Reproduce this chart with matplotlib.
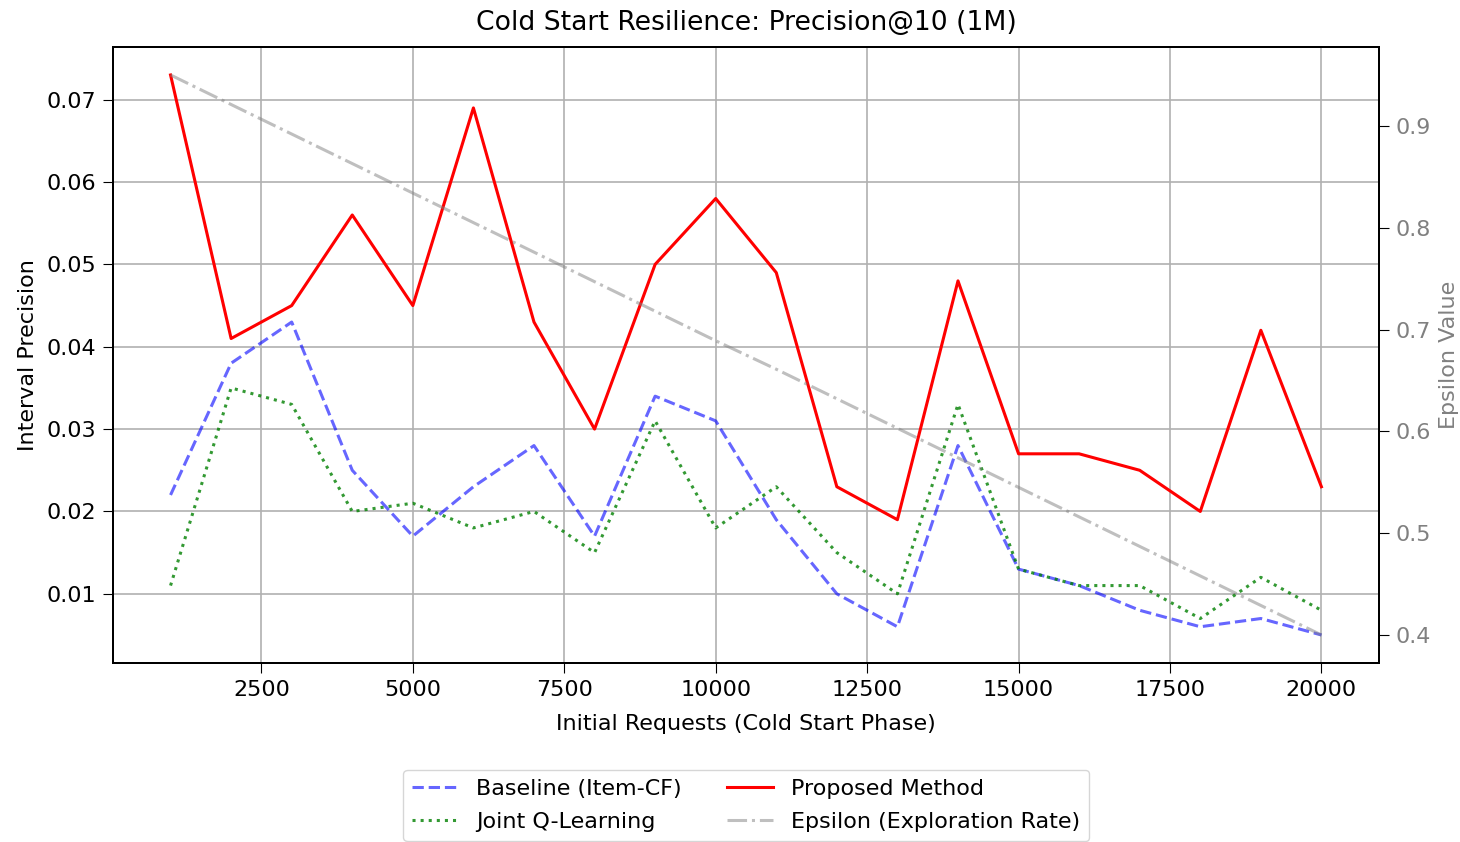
import matplotlib
matplotlib.use("Agg")
import matplotlib.pyplot as plt

requests = [1000, 2000, 3000, 4000, 5000, 6000, 7000, 8000, 9000, 10000,
            11000, 12000, 13000, 14000, 15000, 16000, 17000, 18000, 19000, 20000]
baseline = [0.022, 0.038, 0.043, 0.025, 0.017, 0.023, 0.028, 0.017, 0.034, 0.031,
            0.019, 0.010, 0.006, 0.028, 0.013, 0.011, 0.008, 0.006, 0.007, 0.005]
joint_q = [0.011, 0.035, 0.033, 0.020, 0.021, 0.018, 0.020, 0.015, 0.031, 0.018,
           0.023, 0.015, 0.010, 0.033, 0.013, 0.011, 0.011, 0.007, 0.012, 0.008]
proposed = [0.073, 0.041, 0.045, 0.056, 0.045, 0.069, 0.043, 0.030, 0.050, 0.058,
            0.049, 0.023, 0.019, 0.048, 0.027, 0.027, 0.025, 0.020, 0.042, 0.023]
epsilon = [0.950, 0.921, 0.892, 0.863, 0.834, 0.805, 0.776, 0.747, 0.718, 0.689,
           0.661, 0.632, 0.603, 0.574, 0.545, 0.516, 0.487, 0.458, 0.429, 0.400]

fs = 16
fig = plt.figure(figsize=(14.6, 8.42), dpi=100)
ax1 = fig.add_axes([0.0774, 0.2126, 0.8671, 0.7316])

l1, = ax1.plot(requests, baseline, color="blue", linestyle="--", alpha=0.6, lw=2.2, label="Baseline (Item-CF)")
l2, = ax1.plot(requests, joint_q, color="green", linestyle=":", alpha=0.8, lw=2.2, label="Joint Q-Learning")
l3, = ax1.plot(requests, proposed, color="red", linestyle="-", lw=2.2, label="Proposed Method")
ax1.set_xlabel("Initial Requests (Cold Start Phase)", fontsize=fs, labelpad=10)
ax1.set_ylabel("Interval Precision", fontsize=fs, labelpad=6)
ax1.set_title("Cold Start Resilience: Precision@10 (1M)", fontsize=fs * 1.2, pad=12)
ax1.tick_params(labelsize=fs, length=7, pad=5)
ax1.grid(True, lw=1.2)

ax2 = ax1.twinx()
l4, = ax2.plot(requests, epsilon, color="gray", linestyle="-.", alpha=0.5, lw=2.2, label="Epsilon (Exploration Rate)")
ax2.set_ylabel("Epsilon Value", color="gray", fontsize=fs, labelpad=6)
ax2.tick_params(axis="y", labelcolor="gray", labelsize=fs, length=7, pad=5)

for a in (ax1, ax2):
    for s in a.spines.values():
        s.set_linewidth(1.4)

fig.legend(handles=[l1, l2, l3, l4], loc="lower center", bbox_to_anchor=(0.511, -0.012),
           ncol=2, fontsize=fs, handlelength=2.1, labelspacing=0.6)

fig.savefig("out.png", dpi=100)
